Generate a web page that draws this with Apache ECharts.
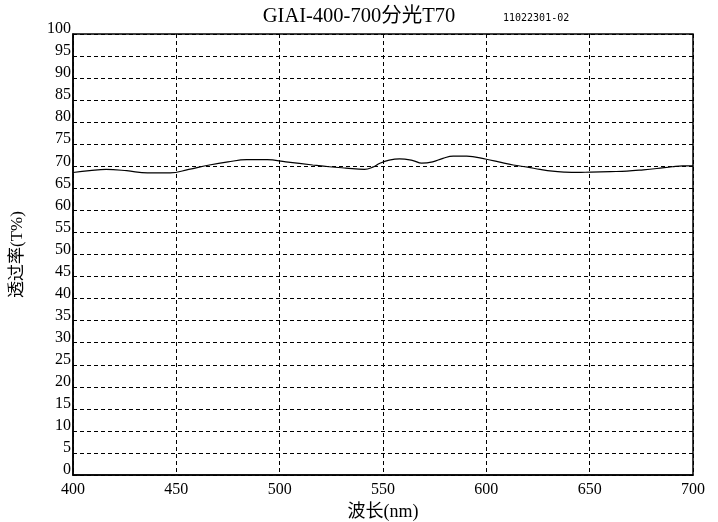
<!DOCTYPE html>
<html><head><meta charset="utf-8">
<script src="https://cdn.jsdelivr.net/npm/echarts@6/dist/echarts.min.js"></script>
<style>html,body{margin:0;padding:0;background:#fff}#c{width:718px;height:522px}</style>
</head><body><div id="c"></div>
<script>
var wavelengths = [400,408,416,426,436,447,456,466,475,484,494,503,516,524,532,541,545,548.5,553,558,564.5,568.7,574,579,584,590.5,600,606,613,620,626,632,637.6,644,650.5,660,668,676,682.5,690,695,700];
var transmittance = [68.6,69.0,69.3,69.0,68.5,68.5,69.3,70.3,71.0,71.5,71.5,71.0,70.3,69.9,69.6,69.3,69.8,70.7,71.4,71.7,71.3,70.7,71.0,71.8,72.3,72.3,71.6,71.0,70.3,69.8,69.3,68.9,68.7,68.6,68.7,68.8,68.9,69.2,69.5,69.9,70.1,70.1];
var yTicks = [0,5,10,15,20,25,30,35,40,45,50,55,60,65,70,75,80,85,90,95,100];
var xTicks = [400,450,500,550,600,650,700];

var serif = '"Liberation Serif","Noto Sans CJK SC",serif';
var chart = echarts.init(document.getElementById('c'));
var pts = wavelengths.map(function(w,i){return [w, transmittance[i]];});
chart.setOption({
  animation:false,
  backgroundColor:'#fff',
  grid:{left:73,right:25,top:34,bottom:47,show:true,borderColor:'#000',borderWidth:1.5,outerBoundsMode:'none',containLabel:false},
  graphic:[
    {type:'text',x:359,y:17,style:{text:'GIAI-400-700分光T70',font:'20.5px '+serif,fill:'#000',align:'center',verticalAlign:'middle'}},
    {type:'text',x:503,y:18,style:{text:'11022301-02',font:'10px "DejaVu Sans Mono",monospace',fill:'#000',verticalAlign:'middle'}}
  ],
  xAxis:{type:'value',min:400,max:700,interval:50,
    name:'波长(nm)',nameLocation:'middle',nameGap:24,
    nameTextStyle:{fontFamily:serif,fontSize:18,color:'#000'},
    axisLine:{show:true,lineStyle:{color:'#000',width:1.5}},
    axisTick:{show:false},
    axisLabel:{fontFamily:serif,fontSize:16,color:'#000',margin:7},
    splitLine:{show:true,lineStyle:{color:'#000',type:[4,3],width:1}}},
  yAxis:{type:'value',min:0,max:100,interval:5,
    name:'透过率(T%)',nameLocation:'middle',nameGap:47,nameRotate:90,
    nameTextStyle:{fontFamily:serif,fontSize:17,color:'#000'},
    axisLine:{show:true,lineStyle:{color:'#000',width:1.5}},
    axisTick:{show:false},
    axisLabel:{fontFamily:serif,fontSize:16,color:'#000',margin:2,verticalAlign:'bottom',lineHeight:16,padding:[0,0,-3,0]},
    splitLine:{show:true,lineStyle:{color:'#000',type:[4,3],width:1}}},
  series:[{type:'line',data:pts,smooth:0.4,symbol:'none',
    lineStyle:{color:'#000',width:1.2}}]
});
</script></body></html>
